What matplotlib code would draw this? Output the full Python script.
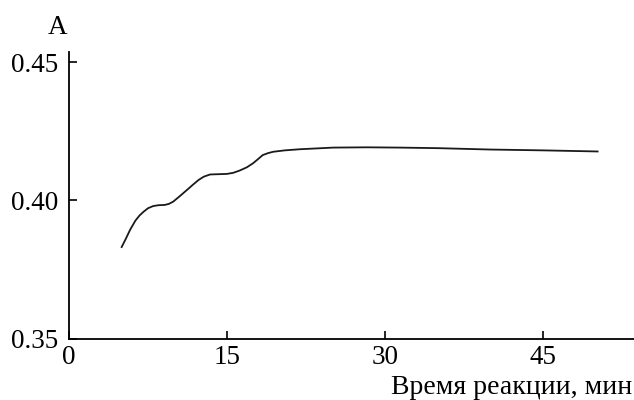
import matplotlib.pyplot as plt

# Кинетическая кривая: оптическая плотность от времени
t = [5.0, 5.4, 5.8, 6.3, 6.7, 7.1, 7.5, 8.0, 8.5, 9.1, 9.5, 9.9, 10.5, 11.2,
     11.8, 12.3, 12.8, 13.4, 14.2, 15.0, 15.6, 16.2, 16.9, 17.5, 18.0, 18.4,
     18.9, 19.4, 20.5, 21.9, 23.5, 25.1, 28.3, 31.4, 35.0, 40.0, 45.0, 50.2]
A = [0.3832, 0.3862, 0.3894, 0.3927, 0.3946, 0.3960, 0.3972, 0.3980, 0.3983,
     0.3984, 0.3988, 0.3996, 0.4015, 0.4038, 0.4058, 0.4074, 0.4086, 0.4094,
     0.4095, 0.4096, 0.4100, 0.4108, 0.4120, 0.4135, 0.4151, 0.4164, 0.4171,
     0.4176, 0.4181, 0.4185, 0.4188, 0.4191, 0.4192, 0.4191, 0.4189, 0.4184,
     0.4181, 0.4177]

xticks = [0, 15, 30, 45]
yticks = [0.35, 0.40, 0.45]
yticklabels = ["0.35", "0.40", "0.45"]

plt.rcParams['font.family'] = ['Liberation Serif', 'DejaVu Serif']
plt.rcParams['font.size'] = 19.5

fig = plt.figure(figsize=(6.34, 4.0), dpi=100)
ax = fig.add_axes([69/634, 1-339/400, (634-69)/634, (339-52)/400])

ax.plot(t, A, color='#1a1a1a', lw=1.3, solid_joinstyle='round')

ax.set_xlim(0, 565/10.53)
ax.set_ylim(0.35, 0.35 + 287/2770)
ax.set_xticks(xticks)
ax.set_yticks(yticks)
ax.set_yticklabels(yticklabels)

ax.spines['top'].set_visible(False)
ax.spines['right'].set_visible(False)
ax.spines['left'].set_linewidth(1.3)
ax.spines['bottom'].set_linewidth(1.3)
ax.tick_params(direction='in', length=6, width=1.2)
ax.tick_params(axis='x', pad=4)
ax.tick_params(axis='y', pad=8)

fig.text(58/634, 1-27/400, "A", ha='center', va='center')
fig.text(632/634, 1-388/400, "Время реакции, мин", ha='right', va='center',
         fontsize=20)

fig.savefig("out.png", dpi=100)
